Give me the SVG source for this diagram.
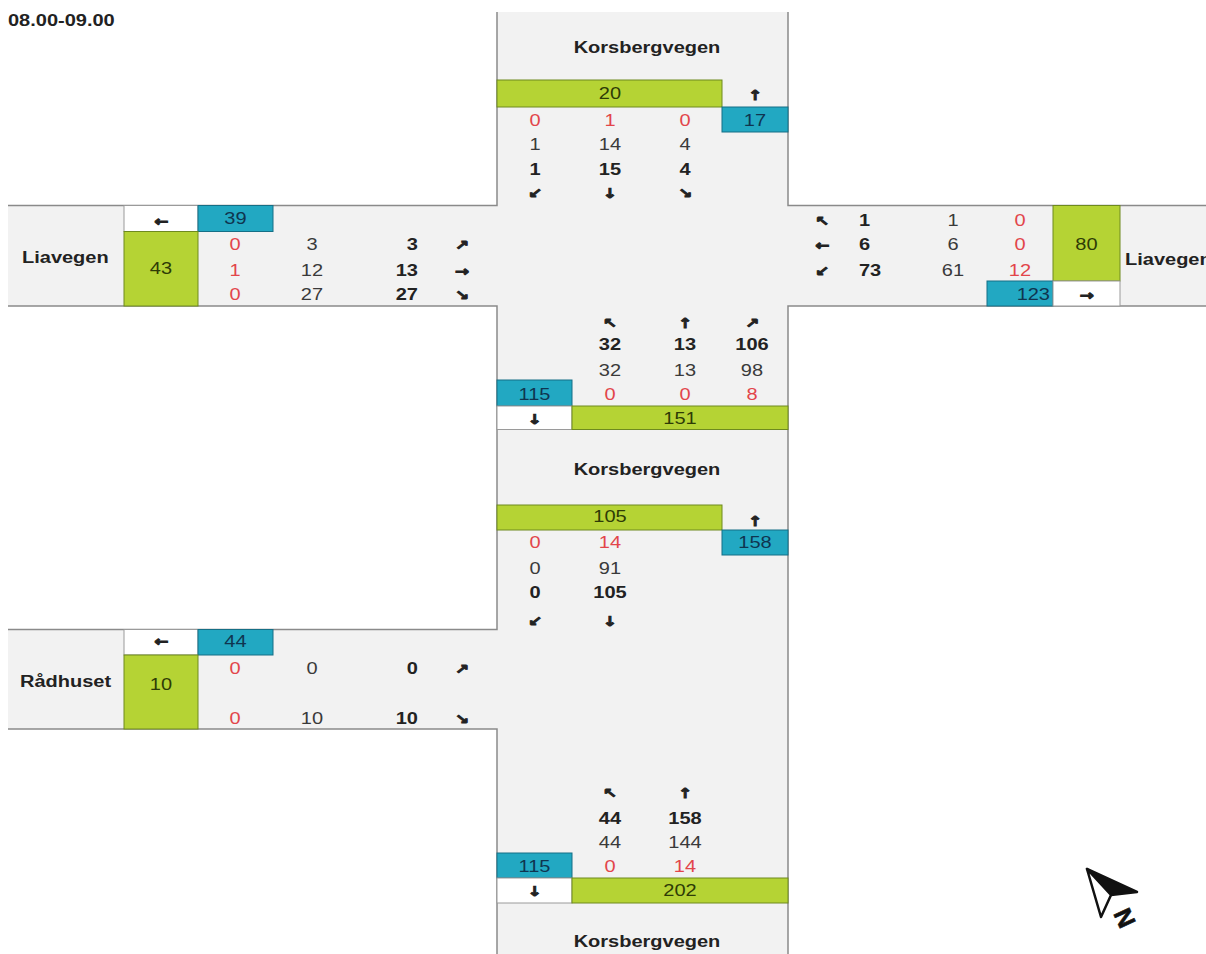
<svg xmlns="http://www.w3.org/2000/svg" width="1206" height="954" viewBox="0 0 1206 954">
<style>
.t{font-family:"Liberation Sans",Arial,sans-serif;font-size:20px;fill:#3a3a3a}
.b{font-weight:bold;fill:#222}
.r{fill:#e2454a}
.m{text-anchor:middle}
.e{text-anchor:end}
.gt{fill:#2e3b06}
.ct{fill:#0f3550}
.a{font-family:"DejaVu Sans",sans-serif;font-weight:bold;font-size:17px;fill:#222;stroke:#222;stroke-width:1.1;text-anchor:middle}
.gb{fill:#b5d334;stroke:#6e8a1e;stroke-width:1}
.cb{fill:#22a8c2;stroke:#156f86;stroke-width:1}
.wb{fill:#fff;stroke:#9a9a9a;stroke-width:1}
.edge{stroke:#8a8a8a;stroke-width:1.5;fill:none}
</style>
<rect width="1206" height="954" fill="#fff"/>
<g id="roads">
<path fill="#f2f2f2" d="M497,12 H788 V205.5 H1206 V306 H788 V954 H497 V729 H8 V629.5 H497 V306 H8 V205.5 H497 Z"/>
<path class="edge" d="M497,12 V205.5 H8 M8,306 H497 V629.5 H8 M8,729 H497 V954 M788,12 V205.5 H1206 M1206,306 H788 V954"/>
</g>
<g id="title"><g transform="scale(1,0.8)"><text class="t b" x="8" y="32.5">08.00-09.00</text></g></g>

<g id="north-approach">
<rect class="gb" x="497" y="80" width="225" height="27"/>
<rect class="cb" x="722" y="107" width="66" height="25"/>
<g transform="scale(1,0.8)">
<text class="t b m" x="647" y="66.25">Korsbergvegen</text>
<text class="t m gt" x="610" y="123.75">20</text>
<text class="a" x="755" y="125.6">↑</text>
<text class="t m ct" x="755" y="156.9">17</text>
<text class="t m r" x="535" y="156.9">0</text><text class="t m r" x="610" y="156.9">1</text><text class="t m r" x="685" y="156.9">0</text>
<text class="t m" x="535" y="187.5">1</text><text class="t m" x="610" y="187.5">14</text><text class="t m" x="685" y="187.5">4</text>
<text class="t b m" x="535" y="218.75">1</text><text class="t b m" x="610" y="218.75">15</text><text class="t b m" x="685" y="218.75">4</text>
<text class="a" x="535" y="247.5">↙</text><text class="a" x="610" y="247.5">↓</text><text class="a" x="685" y="247.5">↘</text>
</g>
</g>

<g id="west-approach-liavegen">
<rect class="wb" x="124" y="205.5" width="74" height="26"/>
<rect class="cb" x="198" y="205.5" width="75" height="26"/>
<rect class="gb" x="124" y="231.5" width="74" height="74.5"/>
<g transform="scale(1,0.8)">
<text class="t b" x="22" y="328.75">Liavegen</text>
<text class="a" x="161" y="281.9">←</text>
<text class="t m ct" x="235.5" y="280">39</text>
<text class="t m gt" x="161" y="342.5">43</text>
<text class="t m r" x="235" y="313.1">0</text><text class="t m" x="312" y="313.1">3</text><text class="t b e" x="418" y="313.1">3</text><text class="a" x="462" y="313.1">↗</text>
<text class="t m r" x="235" y="344.4">1</text><text class="t m" x="312" y="344.4">12</text><text class="t b e" x="418" y="344.4">13</text><text class="a" x="462" y="344.4">→</text>
<text class="t m r" x="235" y="375.6">0</text><text class="t m" x="312" y="375.6">27</text><text class="t b e" x="418" y="375.6">27</text><text class="a" x="462" y="375.6">↘</text>
</g>
</g>

<g id="east-approach-liavegen">
<rect class="gb" x="1053" y="205.5" width="67" height="75.5"/>
<rect class="cb" x="987" y="281" width="66" height="25"/>
<rect class="wb" x="1053" y="281" width="67" height="25"/>
<g transform="scale(1,0.8)">
<text class="t b" x="1125" y="331.25">Liavegen</text>
<text class="a" x="822" y="281.9">↖</text><text class="t b" x="859" y="281.9">1</text><text class="t m" x="953" y="281.9">1</text><text class="t m r" x="1020" y="281.9">0</text>
<text class="a" x="822" y="313.1">←</text><text class="t b" x="859" y="313.1">6</text><text class="t m" x="953" y="313.1">6</text><text class="t m r" x="1020" y="313.1">0</text>
<text class="a" x="822" y="344.4">↙</text><text class="t b" x="859" y="344.4">73</text><text class="t m" x="953" y="344.4">61</text><text class="t m r" x="1020" y="344.4">12</text>
<text class="t m gt" x="1086.5" y="313.1">80</text>
<text class="t e ct" x="1050" y="375.6">123</text>
<text class="a" x="1086.5" y="375.6">→</text>
</g>
</g>

<g id="south-approach-upper">
<rect class="cb" x="497" y="380" width="75" height="26"/>
<rect class="wb" x="497" y="406" width="75" height="23.5"/>
<rect class="gb" x="572" y="406" width="216" height="23.5"/>
<g transform="scale(1,0.8)">
<text class="a" x="610" y="409.4">↖</text><text class="a" x="685" y="409.4">↑</text><text class="a" x="752" y="409.4">↗</text>
<text class="t b m" x="610" y="438.1">32</text><text class="t b m" x="685" y="438.1">13</text><text class="t b m" x="752" y="438.1">106</text>
<text class="t m" x="610" y="469.4">32</text><text class="t m" x="685" y="469.4">13</text><text class="t m" x="752" y="469.4">98</text>
<text class="t m r" x="610" y="500.6">0</text><text class="t m r" x="685" y="500.6">0</text><text class="t m r" x="752" y="500.6">8</text>
<text class="t m ct" x="534.5" y="500.6">115</text>
<text class="a" x="534.5" y="529.4">↓</text>
<text class="t m gt" x="680" y="529.4">151</text>
</g>
</g>

<g id="north-approach-lower">
<rect class="gb" x="497" y="505" width="225" height="25"/>
<rect class="cb" x="722" y="530" width="66" height="25"/>
<g transform="scale(1,0.8)">
<text class="t b m" x="647" y="593.75">Korsbergvegen</text>
<text class="t m gt" x="610" y="653.1">105</text>
<text class="a" x="755" y="656.9">↑</text>
<text class="t m ct" x="755" y="685.6">158</text>
<text class="t m r" x="535" y="685.6">0</text><text class="t m r" x="610" y="685.6">14</text>
<text class="t m" x="535" y="716.9">0</text><text class="t m" x="610" y="716.9">91</text>
<text class="t b m" x="535" y="748.1">0</text><text class="t b m" x="610" y="748.1">105</text>
<text class="a" x="535" y="781.9">↙</text><text class="a" x="610" y="781.9">↓</text>
</g>
</g>

<g id="west-approach-radhuset">
<rect class="wb" x="124" y="629.5" width="74" height="25.5"/>
<rect class="cb" x="198" y="629.5" width="75" height="25.5"/>
<rect class="gb" x="124" y="655" width="74" height="74"/>
<g transform="scale(1,0.8)">
<text class="t b" x="20" y="858.75">Rådhuset</text>
<text class="a" x="161" y="807">←</text>
<text class="t m ct" x="235.5" y="808.75">44</text>
<text class="t m gt" x="161" y="861.9">10</text>
<text class="t m r" x="235" y="842.5">0</text><text class="t m" x="312" y="842.5">0</text><text class="t b e" x="418" y="842.5">0</text><text class="a" x="462" y="842.5">↗</text>
<text class="t m r" x="235" y="904.4">0</text><text class="t m" x="312" y="904.4">10</text><text class="t b e" x="418" y="904.4">10</text><text class="a" x="462" y="904.4">↘</text>
</g>
</g>

<g id="south-approach-bottom">
<rect class="cb" x="497" y="853" width="75" height="25"/>
<rect class="wb" x="497" y="878" width="75" height="25"/>
<rect class="gb" x="572" y="878" width="216" height="25"/>
<g transform="scale(1,0.8)">
<text class="a" x="610" y="998.1">↖</text><text class="a" x="685" y="998.1">↑</text>
<text class="t b m" x="610" y="1029.4">44</text><text class="t b m" x="685" y="1029.4">158</text>
<text class="t m" x="610" y="1059.4">44</text><text class="t m" x="685" y="1059.4">144</text>
<text class="t m r" x="610" y="1090.6">0</text><text class="t m r" x="685" y="1090.6">14</text>
<text class="t m ct" x="534.5" y="1090.6">115</text>
<text class="a" x="534.5" y="1119.4">↓</text>
<text class="t m gt" x="680" y="1119.4">202</text>
<text class="t b m" x="647" y="1183.75">Korsbergvegen</text>
</g>
</g>

<g id="north-arrow">
<polygon points="1087,869 1137,892 1111,895" fill="#111" stroke="#111" stroke-width="2.5" stroke-linejoin="round"/>
<polygon points="1087,869 1111,895 1101,917" fill="#fff" stroke="#111" stroke-width="2.5" stroke-linejoin="round"/>
<text x="1125" y="927" transform="rotate(65 1125 918)" style="font-family:'Liberation Sans',Arial,sans-serif;font-weight:bold;font-size:25px;fill:#111;stroke:#111;stroke-width:0.6" text-anchor="middle">N</text>
</g>
</svg>
